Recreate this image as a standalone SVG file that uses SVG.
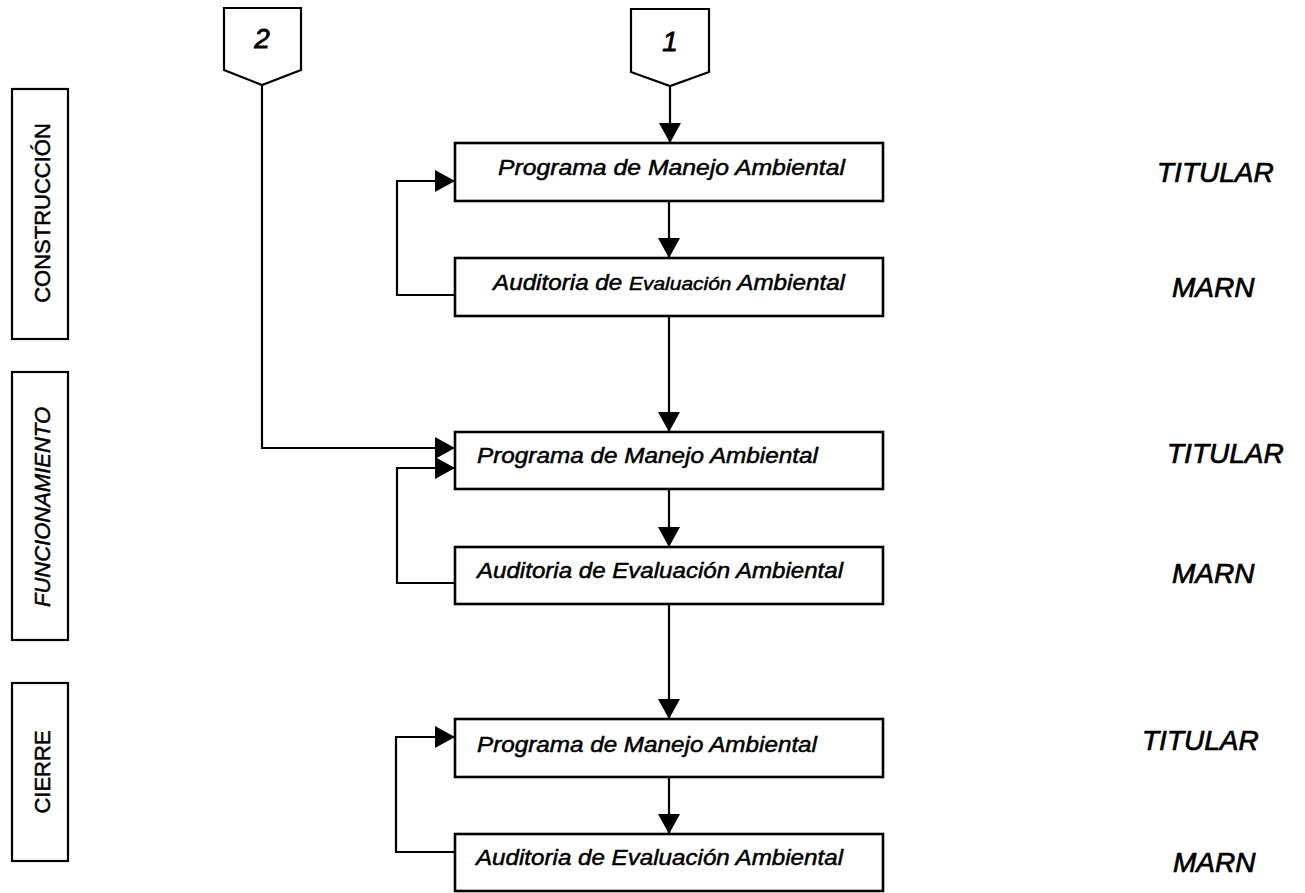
<svg xmlns="http://www.w3.org/2000/svg" width="1305" height="893" viewBox="0 0 1305 893">
  <style>
    .box { fill: #fff; stroke: #000; stroke-width: 2.6; }
    .phase { fill: #fff; stroke: #000; stroke-width: 2.2; }
    .link { fill: none; stroke: #000; stroke-width: 2.2; }
    .t { font-family: "Liberation Sans", Arial, sans-serif; fill: #000; stroke: #000; stroke-width: 0.5; }
    .step { font-size: 22px; font-style: italic; }
    .who { font-size: 28px; font-style: italic; stroke-width: 0.7; }
    .ph { font-size: 22px; }
    .num { font-size: 28px; font-style: italic; text-anchor: middle; stroke-width: 0.8; }
  </style>
  <defs>
    <marker id="arrow" markerUnits="userSpaceOnUse" markerWidth="21" markerHeight="22" refX="20" refY="11" orient="auto">
      <path d="M0,0 L20,11 L0,22 z" fill="#000"/>
    </marker>
  </defs>
  <rect width="1305" height="893" fill="#fff"/>

  <!-- phase labels -->
  <g id="phase-construccion">
    <rect class="phase" x="12" y="89" width="56" height="250"/>
    <text class="t ph" text-anchor="middle" transform="translate(50,213) rotate(-90)">CONSTRUCCIÓN</text>
  </g>
  <g id="phase-funcionamiento">
    <rect class="phase" x="12" y="372" width="56" height="268"/>
    <text class="t ph" font-style="italic" text-anchor="middle" transform="translate(50,507) rotate(-90)">FUNCIONAMIENTO</text>
  </g>
  <g id="phase-cierre">
    <rect class="phase" x="12" y="683" width="56" height="178"/>
    <text class="t ph" text-anchor="middle" transform="translate(50,772) rotate(-90)">CIERRE</text>
  </g>

  <!-- connectors -->
  <g id="connectors">
    <path class="link" d="M670,86 V143" marker-end="url(#arrow)"/>
    <path class="link" d="M669,201 V258" marker-end="url(#arrow)"/>
    <path class="link" d="M669,316 V432" marker-end="url(#arrow)"/>
    <path class="link" d="M669,489 V547" marker-end="url(#arrow)"/>
    <path class="link" d="M669,604 V719" marker-end="url(#arrow)"/>
    <path class="link" d="M669,777 V834" marker-end="url(#arrow)"/>
    <path class="link" d="M455,295 H397 V181 H455" marker-end="url(#arrow)"/>
    <path class="link" d="M455,583 H397 V468 H455" marker-end="url(#arrow)"/>
    <path class="link" d="M455,852 H396 V737 H455" marker-end="url(#arrow)"/>
    <path class="link" d="M262,85 V448 H455" marker-end="url(#arrow)"/>
  </g>

  <!-- off-page connectors -->
  <g id="ref-2">
    <path class="phase" d="M224,8 H301 V70 L262,85 L224,70 Z"/>
    <text class="t num" x="262" y="48">2</text>
  </g>
  <g id="ref-1">
    <path class="phase" d="M631,9 H709 V72 L670,86 L631,72 Z"/>
    <text class="t num" x="670" y="51">1</text>
  </g>

  <!-- construction stage -->
  <g id="pma-construccion">
    <rect class="box" x="455" y="143" width="428" height="58"/>
    <text class="t step" x="498" y="175" textLength="347" lengthAdjust="spacingAndGlyphs">Programa de Manejo Ambiental</text>
  </g>
  <g id="aea-construccion">
    <rect class="box" x="455" y="258" width="428" height="58"/>
    <text class="t step" x="493" y="290" textLength="352" lengthAdjust="spacingAndGlyphs">Auditoria de <tspan font-size="19px">Evaluación</tspan> Ambiental</text>
  </g>

  <!-- operation stage -->
  <g id="pma-funcionamiento">
    <rect class="box" x="455" y="432" width="428" height="57"/>
    <text class="t step" x="477" y="463" textLength="341" lengthAdjust="spacingAndGlyphs">Programa de Manejo Ambiental</text>
  </g>
  <g id="aea-funcionamiento">
    <rect class="box" x="455" y="547" width="428" height="57"/>
    <text class="t step" x="477" y="578" textLength="366" lengthAdjust="spacingAndGlyphs">Auditoria de Evaluación Ambiental</text>
  </g>

  <!-- closure stage -->
  <g id="pma-cierre">
    <rect class="box" x="455" y="719" width="428" height="58"/>
    <text class="t step" x="477" y="752" textLength="340" lengthAdjust="spacingAndGlyphs">Programa de Manejo Ambiental</text>
  </g>
  <g id="aea-cierre">
    <rect class="box" x="455" y="834" width="428" height="57"/>
    <text class="t step" x="476" y="865" textLength="367" lengthAdjust="spacingAndGlyphs">Auditoria de Evaluación Ambiental</text>
  </g>

  <!-- responsible parties -->
  <g id="responsables">
    <text class="t who" x="1157" y="182">TITULAR</text>
    <text class="t who" x="1172" y="297">MARN</text>
    <text class="t who" x="1167" y="463">TITULAR</text>
    <text class="t who" x="1172" y="583">MARN</text>
    <text class="t who" x="1142" y="750">TITULAR</text>
    <text class="t who" x="1173" y="872">MARN</text>
  </g>
</svg>
